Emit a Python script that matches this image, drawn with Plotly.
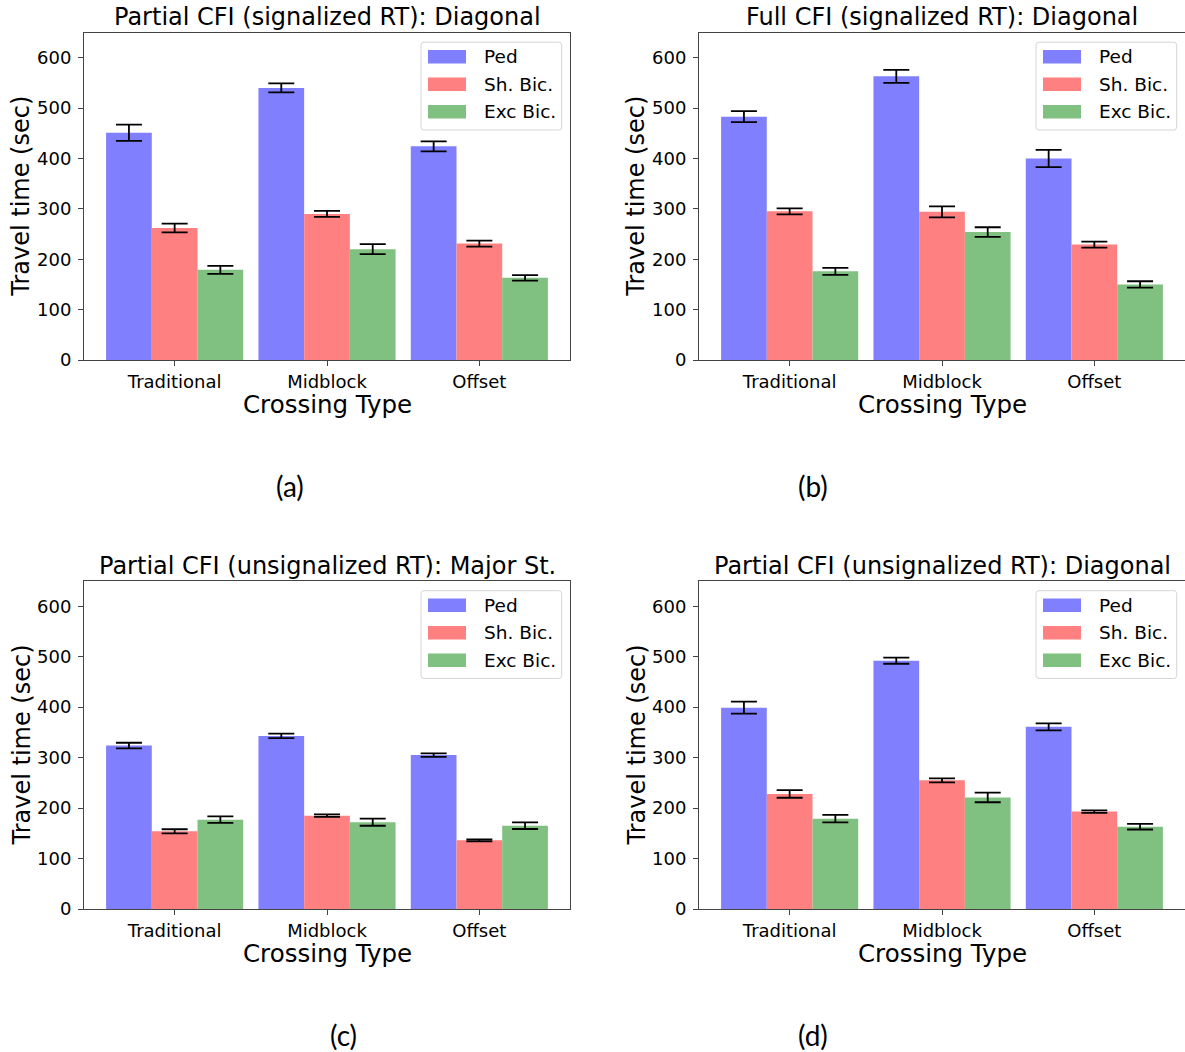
import plotly.graph_objects as go

categories = ["Traditional", "Midblock", "Offset"]
series_names = ["Ped", "Sh. Bic.", "Exc Bic."]
series_colors = ["#8080ff", "#ff8080", "#80c080"]

panel_titles = [
    "Partial CFI (signalized RT): Diagonal",
    "Full CFI (signalized RT): Diagonal",
    "Partial CFI (unsignalized RT): Major St.",
    "Partial CFI (unsignalized RT): Diagonal",
]
panel_labels = ["(a)", "(b)", "(c)", "(d)"]
y_ticks = [0, 100, 200, 300, 400, 500, 600]

# (a)
a_ped = [451, 540, 424]
a_ped_err = [16, 9, 10]
a_sh = [262, 290, 231]
a_sh_err = [8.5, 6, 6]
a_exc = [179, 220, 163]
a_exc_err = [8, 10, 5.5]
# (b)
b_ped = [483, 563, 400]
b_ped_err = [11, 13, 17]
b_sh = [295, 294, 229]
b_sh_err = [6, 11, 6]
b_exc = [176, 254, 150]
b_exc_err = [7, 9.5, 6.3]
# (c)
c_ped = [324, 343, 305]
c_ped_err = [5.5, 4.5, 3.5]
c_sh = [154, 185, 136]
c_sh_err = [4, 2.5, 2]
c_exc = [177, 172, 165]
c_exc_err = [6.5, 7, 6.5]
# (d)
d_ped = [399, 492, 361]
d_ped_err = [12, 6, 7]
d_sh = [228, 255, 193]
d_sh_err = [7.5, 4, 2.5]
d_exc = [179, 221, 163]
d_exc_err = [7.5, 9.5, 5.5]

panels = [
    [(a_ped, a_ped_err), (a_sh, a_sh_err), (a_exc, a_exc_err)],
    [(b_ped, b_ped_err), (b_sh, b_sh_err), (b_exc, b_exc_err)],
    [(c_ped, c_ped_err), (c_sh, c_sh_err), (c_exc, c_exc_err)],
    [(d_ped, d_ped_err), (d_sh, d_sh_err), (d_exc, d_exc_err)],
]

W, H = 1185, 1052
# axes boxes in page pixels: (left, right, top, bottom)
boxes = [(84, 570, 32.5, 360), (699, 1185, 32.5, 360), (84, 570, 581, 909), (699, 1185, 581, 909)]
label_x = [290, 813, 343, 813]


def px(x):
    return x / W


def py(y):
    return 1 - y / H


FONT = "DejaVu Sans"
fig = go.Figure()
layout = dict(
    width=W, height=H, margin=dict(l=0, r=0, t=0, b=0, autoexpand=False), autosize=False,
    paper_bgcolor="white", plot_bgcolor="white",
    barmode="group", bargap=0.1, bargroupgap=0, showlegend=False,
    font=dict(family=FONT, size=18, color="black"),
    annotations=[], shapes=[],
)

for i, (series, box) in enumerate(zip(panels, boxes)):
    k = "" if i == 0 else str(i + 1)
    l, r, t, b = box
    for j, (vals, errs) in enumerate(series):
        fig.add_trace(go.Bar(
            x=categories, y=vals, name=series_names[j],
            marker=dict(color=series_colors[j], line=dict(width=0)),
            error_y=dict(type="data", array=errs, color="black", thickness=1.8, width=13),
            xaxis="x" + k, yaxis="y" + k,
        ))
    axstyle = dict(showline=True, mirror=True, linecolor="#444", linewidth=1,
                   ticks="outside", ticklen=5, tickcolor="#444", showgrid=False,
                   zeroline=False, automargin=False, tickfont=dict(size=18, family=FONT))
    layout["xaxis" + k] = dict(domain=[px(l), min(px(r), 1)], anchor="y" + k,
                               range=[-0.595, 2.595], **axstyle)
    layout["yaxis" + k] = dict(domain=[py(b), py(t)], anchor="x" + k, range=[0, 650],
                               tickvals=y_ticks, ticklabelstandoff=3, **axstyle)

    # legend drawn manually (wide matplotlib-style patches)
    bx0, bx1, by0, by1 = r - 149, r - 8.3, t + 9.7, t + 97.5
    rad = 3
    path = (f"M {px(bx0 + rad)},{py(by0)} L {px(bx1 - rad)},{py(by0)} "
            f"Q {px(bx1)},{py(by0)} {px(bx1)},{py(by0 + rad)} "
            f"L {px(bx1)},{py(by1 - rad)} Q {px(bx1)},{py(by1)} {px(bx1 - rad)},{py(by1)} "
            f"L {px(bx0 + rad)},{py(by1)} Q {px(bx0)},{py(by1)} {px(bx0)},{py(by1 - rad)} "
            f"L {px(bx0)},{py(by0 + rad)} Q {px(bx0)},{py(by0)} {px(bx0 + rad)},{py(by0)} Z")
    layout["shapes"].append(dict(type="path", path=path, xref="paper", yref="paper",
                                 fillcolor="rgba(255,255,255,0.8)",
                                 line=dict(color="#d6d6d6", width=1)))
    for j, name in enumerate(series_names):
        cy = t + 24.2 + j * 27.5
        layout["shapes"].append(dict(type="rect", xref="paper", yref="paper",
                                     x0=px(r - 142), x1=px(r - 104), y0=py(cy + 6.7), y1=py(cy - 6.7),
                                     fillcolor=series_colors[j], line=dict(width=0)))
        layout["annotations"].append(dict(text=name, x=px(r - 88), y=py(cy), xref="paper", yref="paper",
                                          showarrow=False, xanchor="left", yanchor="middle",
                                          font=dict(size=18.5, family=FONT)))

    cx = px((l + r) / 2)
    layout["annotations"] += [
        dict(text=panel_titles[i], x=cx, y=py(t - 15.5), xref="paper", yref="paper",
             showarrow=False, xanchor="center", yanchor="middle", font=dict(size=24, family=FONT)),
        dict(text="Crossing Type", x=cx, y=py(b + 44), xref="paper", yref="paper",
             showarrow=False, xanchor="center", yanchor="middle", font=dict(size=24.5, family=FONT)),
        dict(text="Travel time (sec)", x=px(l - 62.5), y=py((t + b) / 2), xref="paper", yref="paper",
             showarrow=False, xanchor="center", yanchor="middle", textangle=-90,
             font=dict(size=24, family=FONT)),
        dict(text=panel_labels[i], x=px(label_x[i]), y=py(b + 126),
             xref="paper", yref="paper", showarrow=False, xanchor="center", yanchor="middle",
             font=dict(size=28, family="Lato")),
    ]

fig.update_layout(**layout)
post = (
    "document.body.style.margin='0';"
    "document.documentElement.style.overflow='hidden';"
    "document.body.style.overflow='hidden';"
    "var gd=document.getElementById('{plot_id}');"
    "gd.style.position='fixed';gd.style.left='0px';gd.style.top='0px';"
)
fig.write_html("out.html", config={"displayModeBar": False}, post_script=post)
